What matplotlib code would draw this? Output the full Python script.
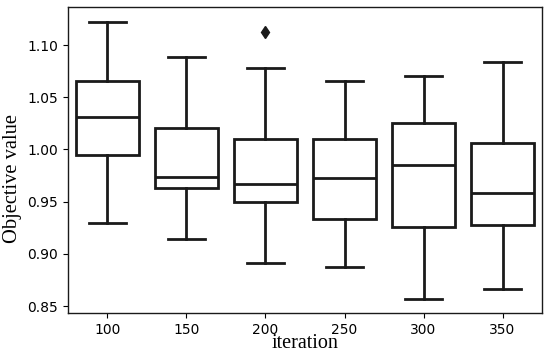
import matplotlib
matplotlib.use("Agg")
import matplotlib.pyplot as plt

iterations = ["100", "150", "200", "250", "300", "350"]
whisker_low = [0.9292, 0.9139, 0.8909, 0.8876, 0.8567, 0.8660]
q1 = [0.9946, 0.9633, 0.9499, 0.9330, 0.9260, 0.9273]
median = [1.0313, 0.9733, 0.9666, 0.9723, 0.9851, 0.9585]
q3 = [1.0652, 1.0202, 1.0097, 1.0103, 1.0256, 1.0064]
whisker_high = [1.1220, 1.0888, 1.0777, 1.0652, 1.0706, 1.0840]
outliers = [[], [], [1.1121], [], [], []]

stats = []
for i, lab in enumerate(iterations):
    stats.append(dict(label=lab, whislo=whisker_low[i], q1=q1[i], med=median[i],
                      q3=q3[i], whishi=whisker_high[i], fliers=outliers[i]))

fig = plt.figure(figsize=(5.5, 3.55), dpi=100)
ax = fig.add_axes([0.1236, 0.1183, 0.8619, 0.8617])

lw = 2.0
col = "#1a1a1a"
ax.bxp(stats, positions=range(len(stats)), widths=0.8, patch_artist=True,
       boxprops=dict(facecolor="white", edgecolor=col, linewidth=lw),
       medianprops=dict(color=col, linewidth=lw),
       whiskerprops=dict(color=col, linewidth=lw),
       capprops=dict(color=col, linewidth=lw),
       flierprops=dict(marker="d", markerfacecolor=col, markeredgecolor=col,
                       markersize=6),
       capwidths=0.46)

ax.set_xlim(-0.5, 5.5)
ax.set_ylim(0.8433, 1.1364)
ax.set_yticks([0.85, 0.90, 0.95, 1.00, 1.05, 1.10])
ax.set_yticklabels(["0.85", "0.90", "0.95", "1.00", "1.05", "1.10"])
ax.tick_params(labelsize=10, length=3.5, width=0.8)
for s in ax.spines.values():
    s.set_linewidth(1.0)
    s.set_color(col)

ax.set_ylabel("Objective value", family="Liberation Serif", fontsize=14.8)
ax.yaxis.set_label_coords(-0.097, 0.441)
ax.set_xlabel("iteration", family="Liberation Serif", fontsize=14.5, labelpad=-2)

fig.savefig("out.png", dpi=100)
